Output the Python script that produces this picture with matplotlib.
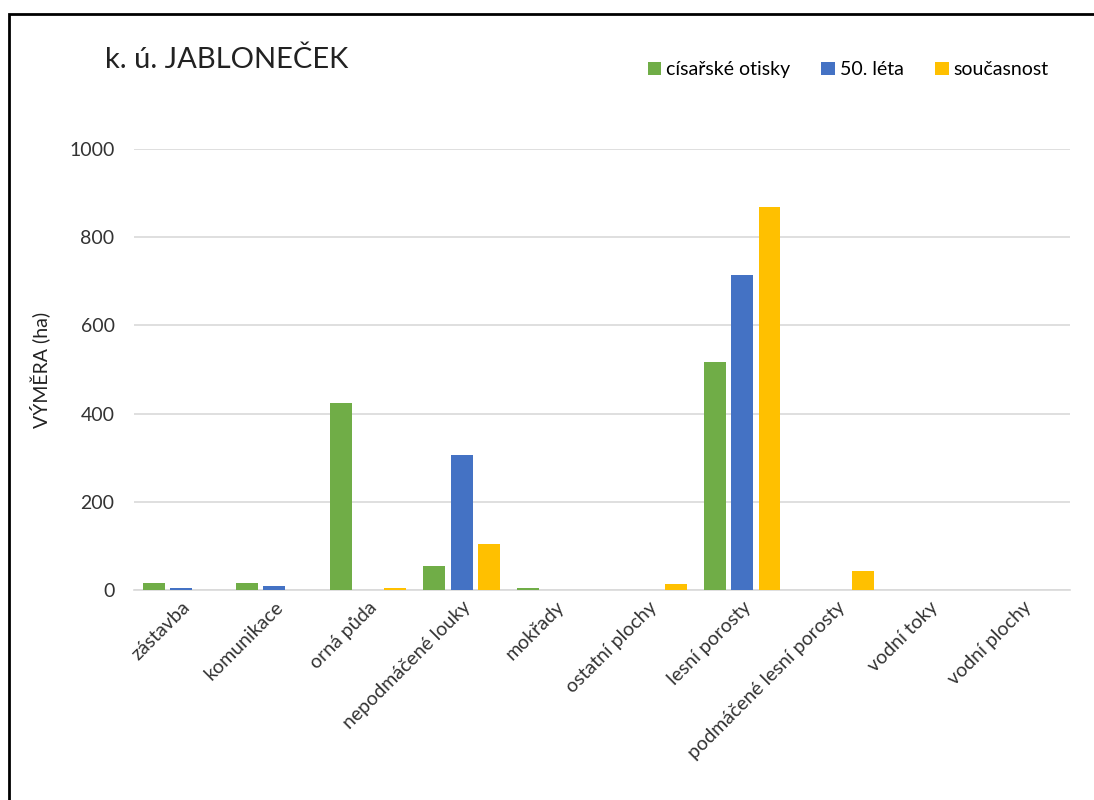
import numpy as np
import matplotlib
matplotlib.use("Agg")
import matplotlib.pyplot as plt
from matplotlib.patches import Rectangle

# ===== DATA =====
kategorie = ["zástavba", "komunikace", "orná půda", "nepodmáčené louky", "mokřady",
             "ostatní plochy", "lesní porosty", "podmáčené lesní porosty",
             "vodní toky", "vodní plochy"]
cisarske = [15, 15, 425, 54, 5, 0, 517, 0, 0, 0]
padesata = [5, 8, 0, 306, 0, 0, 714, 0, 0, 0]
soucasnost = [0, 0, 5, 104, 0, 13, 868, 43, 0, 0]
serie = ["císařské otisky", "50. léta", "současnost"]
barvy = ["#70AD47", "#4472C4", "#FFC000"]

plt.rcParams["font.family"] = ["Lato", "DejaVu Sans"]

# ===== GRAF =====
fig = plt.figure(figsize=(10.94, 8), dpi=100)
ax = fig.add_axes([0.1225, 0.2625, 0.8555, 0.55125])

x = np.arange(len(kategorie))
w = 0.235
step = 0.29
for i, (vals, lab, c) in enumerate(zip([cisarske, padesata, soucasnost], serie, barvy)):
    ax.bar(x + (i - 1) * step, vals, width=w, color=c, label=lab, zorder=3)

ax.set_xlim(-0.5, len(kategorie) - 0.5)
ax.set_ylim(0, 1000)
ax.set_yticks(range(0, 1001, 200))
ax.yaxis.grid(True, color="#D9D9D9", linewidth=1.2, zorder=0)
for s in ["top", "right", "left"]:
    ax.spines[s].set_visible(False)
ax.spines["bottom"].set_color("#D9D9D9")
ax.spines["bottom"].set_linewidth(1.2)
ax.tick_params(axis="y", length=0, labelsize=14, colors="#333333", pad=14)
ax.tick_params(axis="x", length=0, labelsize=14, colors="#333333", pad=6)
ax.set_xticks(x)
ax.set_xticklabels(kategorie, rotation=45, ha="right", rotation_mode="anchor")
ax.set_ylabel("VÝMĚRA (ha)", fontsize=14, labelpad=14, color="#222222")

fig.text(105 / 1094, 1 - 60 / 800, "k. ú. JABLONEČEK", fontsize=21, va="center",
         color="#222222")
ax.legend(loc="center", bbox_to_anchor=(0.763, 1.18),
          ncol=3, frameon=False, fontsize=14, handlelength=0.7, handleheight=0.7,
          handletextpad=0.25, columnspacing=1.6)

fig.add_artist(Rectangle((9 / 1094, -0.01), 1.1, 1 - 14 / 800 + 0.01,
                         transform=fig.transFigure, fill=False,
                         edgecolor="black", linewidth=2))

fig.savefig("out.png", dpi=100)
